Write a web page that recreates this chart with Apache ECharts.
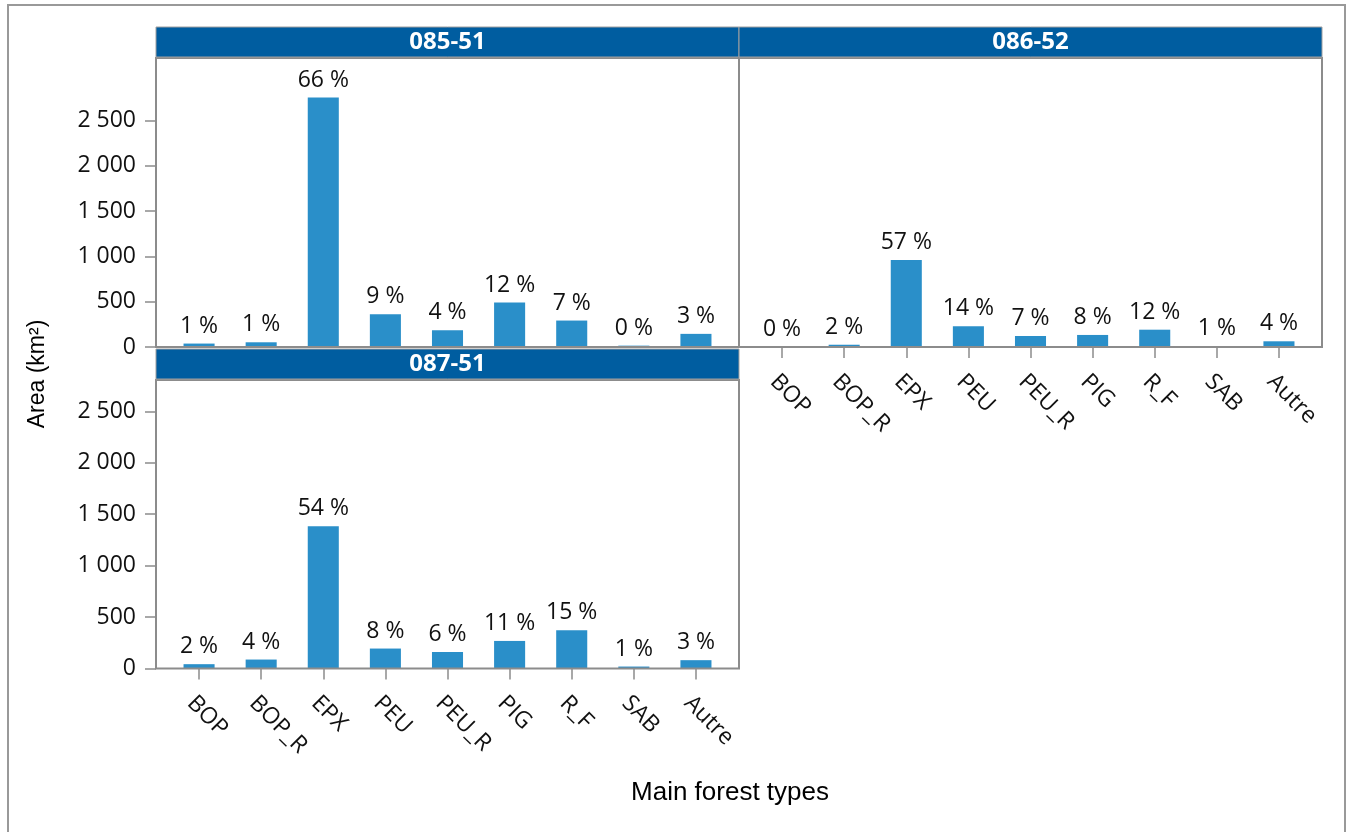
<!DOCTYPE html>
<html>
<head>
<meta charset="utf-8">
<title>Main forest types by unit</title>
<script src="https://cdn.jsdelivr.net/npm/echarts@6/dist/echarts.min.js"></script>
<style>
  html, body { margin: 0; padding: 0; background: #fff; }
  #chart { width: 1346px; height: 832px; }
</style>
</head>
<body>
<div id="chart"></div>
<script>
const categories = ["BOP", "BOP_R", "EPX", "PEU", "PEU_R", "PIG", "R_F", "SAB", "Autre"];

// area in km2; pct are the printed labels
const area_085_51 = [38, 52, 2754, 362, 185, 491, 292, 15, 145];
const pct_085_51 = [1, 1, 66, 9, 4, 12, 7, 0, 3];
const area_086_52 = [3, 25, 959, 229, 122, 133, 191, 10, 63];
const pct_086_52 = [0, 2, 57, 14, 7, 8, 12, 1, 4];
const area_087_51 = [42, 87, 1382, 194, 161, 268, 371, 19, 81];
const pct_087_51 = [2, 4, 54, 8, 6, 11, 15, 1, 3];

const yTickValues = [0, 500, 1000, 1500, 2000, 2500];
const yTickLabels = ["0", "500", "1 000", "1 500", "2 000", "2 500"];

const BLUE = "#005da0";
const BAR = "#2a8fc9";
const FRAME = "#8c8c8c";
const UI_FONT = '"Open Sans", "Noto Sans", sans-serif';
const TITLE_FONT = '"Liberation Sans", Arial, sans-serif';

// facet layout: frame box + header; the band scale sits 12px inside the frame
const PAD = 12;
const facets = [
  { name: "085-51", area: area_085_51, pct: pct_085_51, x: 156, y: 58, w: 583, h: 289, yMax: 3190, showY: true, showX: false },
  { name: "086-52", area: area_086_52, pct: pct_086_52, x: 739, y: 58, w: 583, h: 289, yMax: 3190, showY: false, showX: true },
  { name: "087-51", area: area_087_51, pct: pct_087_51, x: 156, y: 380, w: 583, h: 288.5, yMax: 2805, showY: true, showX: true },
];
const HEADER_H = 30;

const grid = [], xAxis = [], yAxis = [], series = [], graphic = [];

graphic.push({
  type: "rect", silent: true, z: 0,
  shape: { x: 8, y: 5, width: 1337, height: 900 },
  style: { fill: null, stroke: "#999", lineWidth: 2 },
});

facets.forEach((f, i) => {
  grid.push({ left: f.x + PAD, top: f.y, width: f.w - 2 * PAD, height: f.h, containLabel: false });

  xAxis.push({
    type: "category",
    gridIndex: i,
    data: categories,
    axisLine: { show: false },
    axisTick: { show: f.showX, alignWithLabel: true, length: 11, lineStyle: { color: FRAME, width: 1.5 } },
    axisLabel: {
      // labels hang from their top-left corner, like the source chart
      show: f.showX, rotate: -45, margin: 23, interval: 0,
      align: "left", verticalAlign: "top",
      color: "#111", fontSize: 23, fontFamily: UI_FONT,
    },
  });

  yAxis.push({
    type: "value",
    gridIndex: i,
    min: 0,
    max: f.yMax,
    offset: PAD,
    splitLine: { show: false },
    axisLine: { show: false },
    axisTick: { show: f.showY, length: 11, customValues: yTickValues, lineStyle: { color: FRAME, width: 1.5 } },
    axisLabel: {
      show: f.showY, margin: 20, customValues: yTickValues,
      color: "#111", fontSize: 23, fontFamily: UI_FONT,
      formatter: (v) => yTickLabels[yTickValues.indexOf(v)] ?? "",
    },
  });

  series.push({
    type: "bar",
    name: f.name,
    xAxisIndex: i,
    yAxisIndex: i,
    barWidth: "50%",
    data: f.area,
    itemStyle: { color: BAR },
    label: {
      show: true, position: "top", distance: 6,
      color: "#111", fontSize: 23, fontFamily: UI_FONT,
      formatter: (p) => f.pct[p.dataIndex] + " %",
    },
  });

  // panel frame and facet header
  graphic.push({
    type: "rect", silent: true, z: 10,
    shape: { x: f.x, y: f.y, width: f.w, height: f.h },
    style: { fill: null, stroke: FRAME, lineWidth: 2 },
  });
  graphic.push({
    type: "rect", silent: true, z: 10,
    shape: { x: f.x, y: f.y - HEADER_H - 1, width: f.w, height: HEADER_H },
    style: { fill: BLUE, stroke: "#a0a0a0", lineWidth: 1 },
  });
  graphic.push({
    type: "text", silent: true, z: 11,
    style: {
      text: f.name, x: f.x + f.w / 2, y: f.y - HEADER_H / 2 - 1,
      align: "center", verticalAlign: "middle",
      fill: "#fff", fontSize: 24, fontWeight: "bold", fontFamily: UI_FONT,
    },
  });
});

graphic.push({
  type: "text", silent: true,
  rotation: Math.PI / 2, x: 38, y: 374,
  style: {
    text: "Area (km²)", align: "center", verticalAlign: "middle",
    fill: "#000", fontSize: 23, fontFamily: TITLE_FONT,
  },
});
graphic.push({
  type: "text", silent: true,
  style: {
    text: "Main forest types", x: 730, y: 793, align: "center", verticalAlign: "middle",
    fill: "#000", fontSize: 26, fontFamily: TITLE_FONT,
  },
});

const chart = echarts.init(document.getElementById("chart"));
chart.setOption({
  animation: false,
  grid, xAxis, yAxis, series, graphic,
});
window.addEventListener("resize", () => chart.resize());
</script>
</body>
</html>
